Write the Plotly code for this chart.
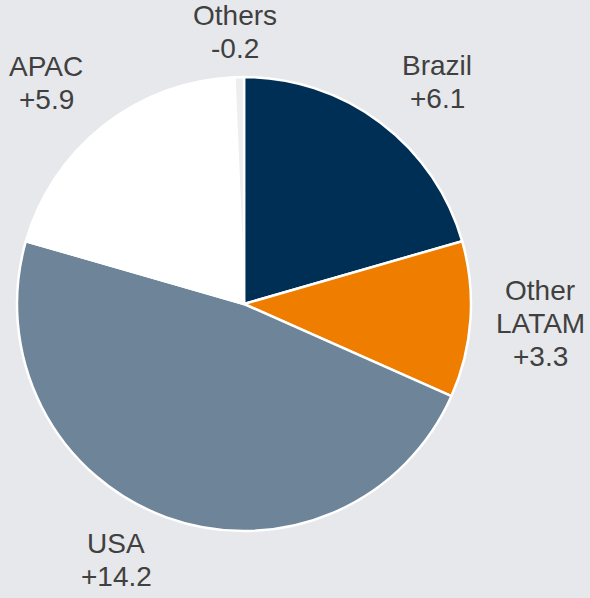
import plotly.graph_objects as go

# ---- data ----
regions = ["Brazil", "Other LATAM", "USA", "APAC", "Others"]
label_lines = [["Brazil"], ["Other", "LATAM"], ["USA"], ["APAC"], ["Others"]]
changes = [6.1, 3.3, 14.2, 5.9, -0.2]
value_text = ["+6.1", "+3.3", "+14.2", "+5.9", "-0.2"]
colors = ["#002f56", "#ee7d00", "#6d8499", "#ffffff", "#eceef0"]

# ---- label placement (pixel centres of first text line) ----
W, H = 590, 598
label_pos = [(437, 65), (540, 290), (116, 543), (46, 66), (235, 16)]
LINE = 33
FONT = dict(family="Liberation Sans, Arial, sans-serif", size=28, color="#404040")

fig = go.Figure(go.Pie(
    labels=regions,
    values=[abs(v) for v in changes],
    sort=False,
    direction="clockwise",
    rotation=0,
    marker=dict(colors=colors, line=dict(color="#ffffff", width=2.5)),
    textinfo="none",
    hoverinfo="label+value",
    showlegend=False,
    domain=dict(x=[(244 - 227) / W, (244 + 227) / W],
                y=[(H - 304 - 227) / H, (H - 304 + 227) / H]),
))

annotations = []
for lines, vt, (px, py) in zip(label_lines, value_text, label_pos):
    for i, t in enumerate(lines + [vt]):
        annotations.append(dict(
            text=t, x=px / W, y=1 - py / H, xref="paper", yref="paper",
            xanchor="center", yanchor="middle", yshift=-LINE * i,
            showarrow=False, font=FONT,
        ))

fig.update_layout(
    width=W, height=H,
    margin=dict(l=0, r=0, t=0, b=0),
    paper_bgcolor="#e7e8eb",
    plot_bgcolor="#e7e8eb",
    annotations=annotations,
)

fig.write_html(
    "out.html",
    config={"displayModeBar": False},
    post_script="document.body.style.margin='0';document.body.style.padding='0';"
                "document.body.style.overflow='hidden';",
)
